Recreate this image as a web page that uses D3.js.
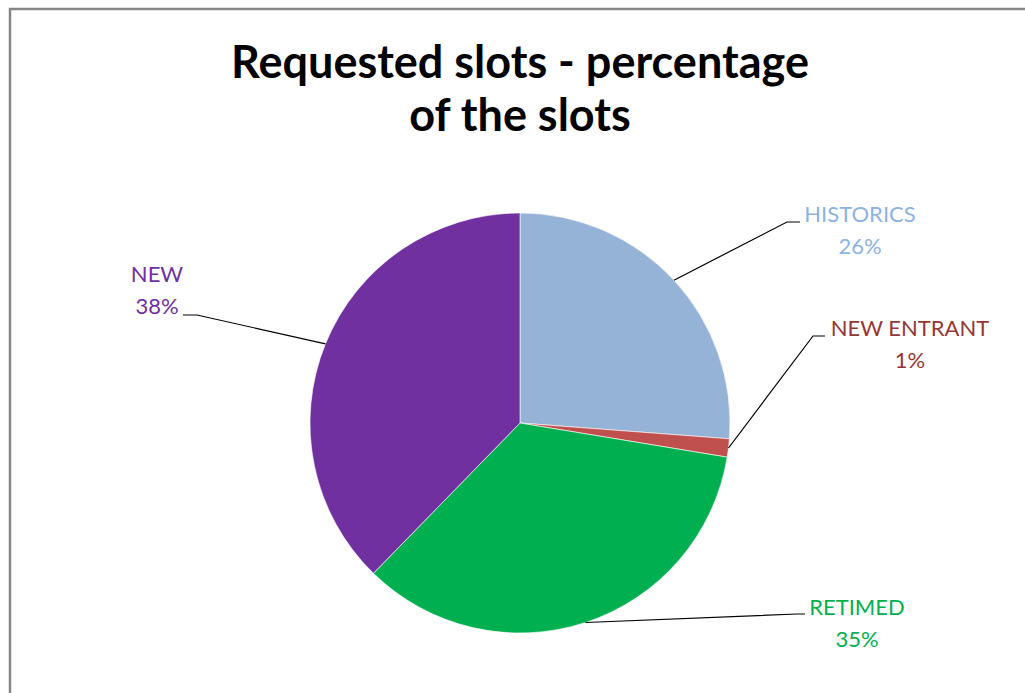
<!DOCTYPE html>
<html>
<head>
<meta charset="utf-8">
<script src="https://cdn.jsdelivr.net/npm/d3@7"></script>
<style>
  body { margin: 0; background: #fff; }
  svg { display: block; }
</style>
</head>
<body>
<div id="chart"></div>
<script>
// slice data (clockwise from 12 o'clock)
var categories = ["HISTORICS", "NEW ENTRANT", "RETIMED", "NEW"];
var shares = [26.2, 1.4, 34.7, 37.7];
var sliceColors = ["#95b3d7", "#c0504d", "#00b050", "#7030a0"];
var labelColors = ["#8db3e2", "#953735", "#00b050", "#7030a0"];
var titleLines = ["Requested slots - percentage", "of the slots"];

// where each data label sits (text center) and the elbow of its leader line
var labelLayout = {
  "HISTORICS":   { x: 860, y: 214, elbow: [787, 222], end: [800, 222] },
  "NEW ENTRANT": { x: 910, y: 328, elbow: [813, 336], end: [825, 336] },
  "RETIMED":     { x: 857, y: 607, elbow: [797, 614], end: [805, 614] },
  "NEW":         { x: 157, y: 274, elbow: [197, 315], end: [183, 315] }
};

var width = 1025, height = 693;
var cx = 520, cy = 423, radius = 210;

var svg = d3.select("#chart").append("svg")
    .attr("width", width)
    .attr("height", height);

// chart area border (only top and left visible in the crop)
svg.append("rect")
    .attr("x", 10).attr("y", 9)
    .attr("width", 1040).attr("height", 720)
    .attr("fill", "none")
    .attr("stroke", "#868686")
    .attr("stroke-width", 2.5);

// title
svg.append("text")
    .attr("x", 520)
    .attr("text-anchor", "middle")
    .style("font-family", "Lato, 'Open Sans', sans-serif")
    .style("font-weight", "bold")
    .style("font-size", "45px")
    .attr("fill", "#000")
    .selectAll("tspan")
    .data(titleLines)
    .enter().append("tspan")
    .attr("x", 520)
    .attr("y", function(d, i) { return 78 + i * 53; })
    .text(function(d) { return d; });

var data = categories.map(function(c, i) {
  return { name: c, value: shares[i], color: sliceColors[i], labelColor: labelColors[i] };
});

var pie = d3.pie().sort(null).value(function(d) { return d.value; });
var arc = d3.arc().innerRadius(0).outerRadius(radius);
var arcs = pie(data);

var g = svg.append("g").attr("transform", "translate(" + cx + "," + cy + ")");

g.selectAll("path.slice")
    .data(arcs)
    .enter().append("path")
    .attr("class", "slice")
    .attr("d", arc)
    .attr("fill", function(d) { return d.data.color; })
    .attr("stroke", "#fff")
    .attr("stroke-width", 0.6);

// leader lines: from the arc edge at the mid angle to the label
var fmt = d3.format(".0f");

arcs.forEach(function(d) {
  var lay = labelLayout[d.data.name];
  var mid = (d.startAngle + d.endAngle) / 2;
  var sx = cx + radius * Math.sin(mid);
  var sy = cy - radius * Math.cos(mid);
  svg.append("polyline")
      .attr("points", [[sx, sy], lay.elbow, lay.end].map(function(p) { return p.join(","); }).join(" "))
      .attr("fill", "none")
      .attr("stroke", "#000")
      .attr("stroke-width", 1.2);

  var t = svg.append("text")
      .attr("text-anchor", "middle")
      .style("font-family", "Lato, 'Open Sans', sans-serif")
      .style("font-size", "22px")
      .attr("fill", d.data.labelColor);
  t.append("tspan").attr("x", lay.x).attr("y", lay.y + 8).text(d.data.name);
  t.append("tspan").attr("x", lay.x).attr("y", lay.y + 40).text(fmt(d.data.value) + "%");
});
</script>
</body>
</html>
